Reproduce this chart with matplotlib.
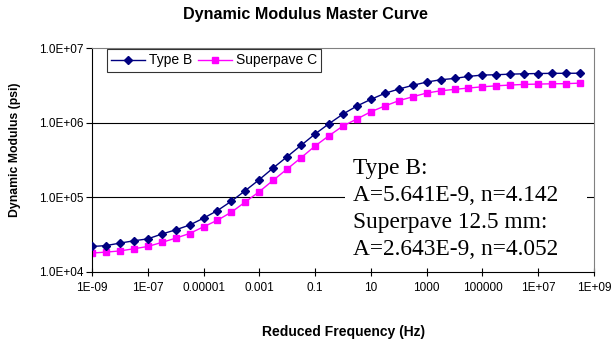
import matplotlib
matplotlib.use("Agg")
import matplotlib.pyplot as plt
from matplotlib.patches import Rectangle

plt.rcParams['font.family'] = ['Liberation Sans', 'DejaVu Sans']

# reduced frequency, half decade steps (Hz)
freq = [1e-9, 3.16e-9, 1e-8, 3.16e-8, 1e-7, 3.16e-7, 1e-6, 3.16e-6,
        1e-5, 3.16e-5, 1e-4, 3.16e-4, 1e-3, 3.16e-3, 1e-2, 3.16e-2,
        0.1, 0.316, 1, 3.16, 10, 31.6, 100, 316, 1000, 3160, 1e4, 3.16e4,
        1e5, 3.16e5, 1e6, 3.16e6, 1e7, 3.16e7, 1e8, 3.16e8]

type_b = [21900, 22500, 24300, 26100, 27700, 32100, 36600, 42400,
          52500, 66400, 88700, 123000, 172600, 247700, 350800, 497700,
          706000, 970000, 1306000, 1675000, 2056000, 2477000, 2825000, 3170000,
          3508000, 3767000, 3926000, 4178000, 4355000, 4400000, 4480000, 4530000,
          4570000, 4590000, 4600000, 4610000]

superpave = [17900, 18400, 19100, 20400, 21900, 24800, 28300, 32700,
             40200, 49300, 63200, 86700, 119100, 169400, 239900, 339600,
             487500, 669900, 903600, 1122000, 1403000, 1675000, 1972000, 2228000,
             2500000, 2679000, 2799000, 2917000, 3034000, 3126000, 3199000, 3266000,
             3296000, 3327000, 3340000, 3396000]

xticks = [1e-9, 1e-7, 1e-5, 1e-3, 1e-1, 1e1, 1e3, 1e5, 1e7, 1e9]
xlabels = ['1E-09', '1E-07', '0.00001', '0.001', '0.1', '10', '1000',
           '100000', '1E+07', '1E+09']
yticks = [1e4, 1e5, 1e6, 1e7]
ylabels = ['1.0E+04', '1.0E+05', '1.0E+06', '1.0E+07']

note = ("Type B:\nA=5.641E-9, n=4.142\n"
        "Superpave 12.5 mm:\nA=2.643E-9, n=4.052")

fig = plt.figure(figsize=(6.13, 3.39), dpi=100)
ax = fig.add_axes([0.150, 0.198, 0.819, 0.660])

ax.set_xscale('log')
ax.set_yscale('log')
ax.set_xlim(1e-9, 1e9)
ax.set_ylim(1e4, 1e7)

for yv in [1e5, 1e6]:
    ax.axhline(yv, color='black', lw=0.8, zorder=0.5)

# white box behind the fit parameters
ax.add_patch(Rectangle((0.504, 0.03), 0.482, 0.515, transform=ax.transAxes,
                       facecolor='white', edgecolor='none', zorder=1))
ax.text(0.519, 0.51, note, transform=ax.transAxes, va='top', ha='left',
        family=['Liberation Serif', 'DejaVu Serif'], fontsize=16.8,
        linespacing=1.37, zorder=1.5)

ax.plot(freq, type_b, color='#000080', marker='D', markersize=4.5, lw=1,
        label='Type B', zorder=3)
ax.plot(freq, superpave, color='#FF00FF', marker='s', markersize=5, lw=1,
        label='Superpave C', zorder=2.5)

ax.set_xticks(xticks, xlabels)
ax.set_yticks(yticks, ylabels)
ax.xaxis.set_minor_locator(matplotlib.ticker.NullLocator())
ax.yaxis.set_minor_locator(matplotlib.ticker.NullLocator())
ax.tick_params(axis='x', direction='inout', length=6, width=0.8,
               labelsize=8.5, pad=4)
ax.tick_params(axis='y', direction='out', length=4, width=0.8,
               labelsize=8.5, pad=2)

for s in ['top', 'right']:
    ax.spines[s].set_color('#808080')
for s in ['left', 'bottom']:
    ax.spines[s].set_color('black')
for s in ax.spines.values():
    s.set_linewidth(0.8)

leg = ax.legend(loc='upper left', bbox_to_anchor=(0.029, 0.995), ncol=2,
                fontsize=10, frameon=True, fancybox=False, borderpad=0.3,
                handlelength=2.45, columnspacing=0.4, handletextpad=0.3,
                borderaxespad=0)
leg.get_frame().set_edgecolor('black')
leg.get_frame().set_linewidth(0.8)

fig.text(0.499, 0.956, 'Dynamic Modulus Master Curve', ha='center',
         va='center', fontsize=11.6, fontweight='bold')
fig.text(0.56, 0.022, 'Reduced Frequency (Hz)', ha='center', va='center',
         fontsize=10, fontweight='bold')
fig.text(0.0245, 0.558, 'Dynamic Modulus (psi)', ha='center', va='center',
         rotation=90, fontsize=8.8, fontweight='bold')

fig.savefig('out.png', dpi=100)
